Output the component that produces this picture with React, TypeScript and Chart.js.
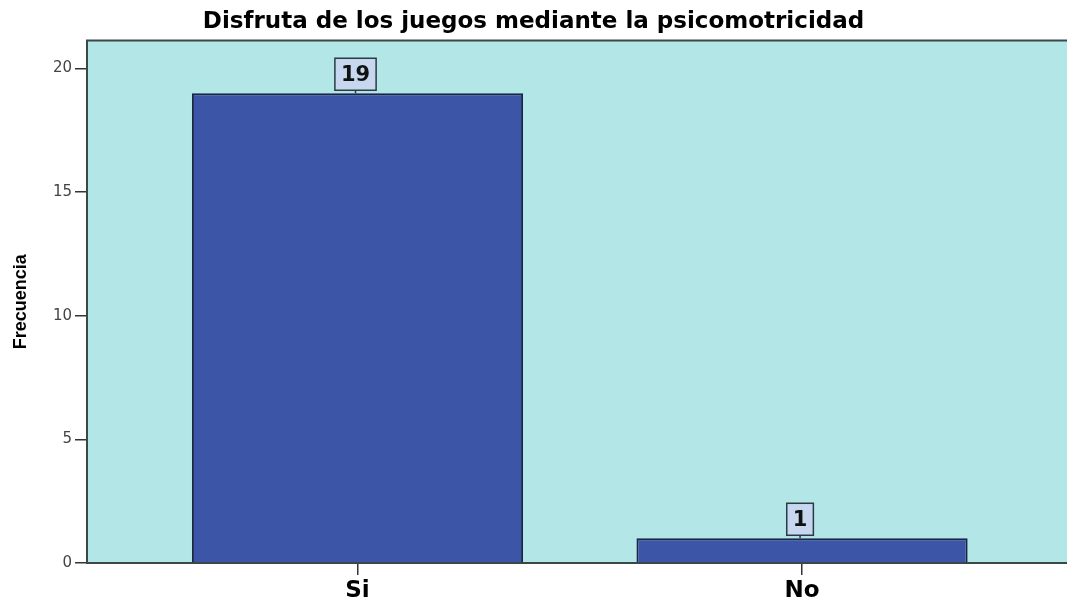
import React, { useEffect, useRef } from 'react';
import { Chart, registerables } from 'chart.js';

Chart.register(...registerables);

const chartTitle = 'Disfruta de los juegos mediante la psicomotricidad';
const yAxisTitle = 'Frecuencia';
const categories = ['Si', 'No'];
const frecuencias = [19, 1];
const yTickValues = [0, 5, 10, 15, 20];

const PLOT_BG = '#b3e6e6';
const BAR_COLOR = '#3d55a6';
const FRAME_COLOR = '#3b4848';

const plotPlugin = {
  id: 'plotDecor',
  beforeDatasetsDraw(chart: any) {
    const { ctx, chartArea: a } = chart;
    ctx.save();
    ctx.fillStyle = PLOT_BG;
    ctx.fillRect(a.left, a.top, a.right - a.left, a.bottom - a.top);
    ctx.restore();
  },
  afterDatasetsDraw(chart: any) {
    const { ctx, chartArea: a } = chart;
    ctx.save();
    ctx.strokeStyle = FRAME_COLOR;
    ctx.lineWidth = 2;
    ctx.beginPath();
    ctx.moveTo(a.right + 5, a.top);
    ctx.lineTo(a.left, a.top);
    ctx.lineTo(a.left, a.bottom);
    ctx.lineTo(a.right + 5, a.bottom);
    ctx.stroke();

    const meta = chart.getDatasetMeta(0);
    ctx.font = 'bold 21px "DejaVu Sans", sans-serif';
    ctx.textAlign = 'center';
    ctx.textBaseline = 'middle';
    meta.data.forEach((bar: any, i: number) => {
      const text = String(frecuencias[i]);
      const w = ctx.measureText(text).width + 12;
      const h = 32;
      const cx = bar.x - 2;
      const bottom = bar.y - 3;
      const top = bottom - h;
      ctx.strokeStyle = '#2b3a44';
      ctx.lineWidth = 1.5;
      ctx.beginPath();
      ctx.moveTo(cx, bottom);
      ctx.lineTo(cx, bar.y);
      ctx.stroke();
      ctx.fillStyle = '#c6d7ef';
      ctx.fillRect(cx - w / 2, top, w, h);
      ctx.strokeRect(cx - w / 2, top, w, h);
      ctx.fillStyle = '#111';
      ctx.fillText(text, cx, top + h / 2 + 1);
    });
    ctx.restore();
  },
};

export default function App() {
  const canvasRef = useRef<HTMLCanvasElement | null>(null);

  useEffect(() => {
    if (!canvasRef.current) return;
    const chart = new Chart(canvasRef.current, {
      type: 'bar',
      data: {
        datasets: [
          {
            label: yAxisTitle,
            data: categories.map((c, i) => ({ x: i, y: frecuencias[i] })),
            backgroundColor: BAR_COLOR,
            borderColor: '#1b2545',
            borderWidth: 2,
            barPercentage: 0.745,
            categoryPercentage: 1,
          },
        ],
      },
      options: {
        animation: false,
        responsive: false,
        maintainAspectRatio: false,
        devicePixelRatio: 1,
        layout: { padding: 0 },
        plugins: {
          legend: { display: false },
          tooltip: { enabled: false },
          title: {
            display: true,
            text: chartTitle,
            color: '#000',
            font: { family: '"DejaVu Sans", sans-serif', weight: 'bold', size: 23 },
            padding: { top: 8, bottom: 5 },
          },
        },
        scales: {
          x: {
            type: 'linear',
            min: -0.6085,
            max: 1.596,
            offset: false,
            afterBuildTicks: (s: any) => {
              s.ticks = categories.map((_, i) => ({ value: i }));
            },
            afterFit: (s: any) => {
              s.height = 37;
            },
            ticks: {
              callback: (v: any) => categories[v] ?? '',
              color: '#000',
              font: { family: '"DejaVu Sans", sans-serif', weight: 'bold', size: 23 },
              padding: 2,
              maxRotation: 0,
              autoSkip: false,
            },
            grid: {
              display: true,
              drawOnChartArea: false,
              drawTicks: true,
              tickLength: 12,
              color: '#333',
              lineWidth: 1.5,
              offset: false,
            },
            border: { display: false },
          },
          y: {
            type: 'linear',
            min: 0,
            max: 21.13,
            afterBuildTicks: (s: any) => {
              s.ticks = yTickValues.map((v) => ({ value: v }));
            },
            afterFit: (s: any) => {
              s.width = 87;
            },
            ticks: {
              color: '#444',
              font: { family: '"DejaVu Sans", sans-serif', size: 15 },
              padding: 3,
            },
            grid: {
              display: true,
              drawOnChartArea: false,
              drawTicks: true,
              tickLength: 12,
              color: '#333',
              lineWidth: 1.5,
            },
            border: { display: false },
            title: {
              display: true,
              text: yAxisTitle,
              color: '#000',
              font: {
                family: '"Liberation Sans Narrow", "Liberation Sans", Arial, sans-serif',
                weight: 'bold',
                size: 18,
              },
              padding: { top: 10, bottom: 0 },
            },
          },
        },
      },
      plugins: [plotPlugin],
    } as any);
    return () => chart.destroy();
  }, []);

  return (
    <div
      style={{
        position: 'fixed',
        left: 0,
        top: 0,
        width: 1067,
        height: 600,
        background: '#fff',
        overflow: 'hidden',
      }}
    >
      <canvas ref={canvasRef} width={1067} height={600} style={{ display: 'block' }} />
    </div>
  );
}
